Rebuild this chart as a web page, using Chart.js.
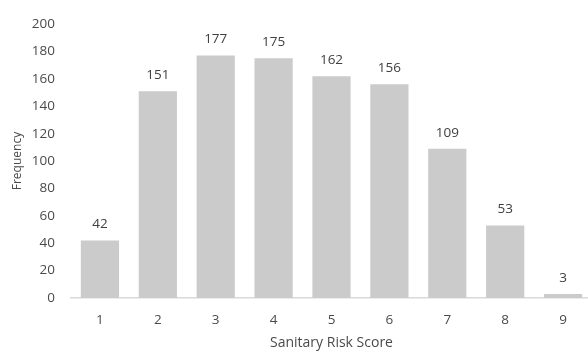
<!DOCTYPE html>
<html>
<head>
<meta charset="utf-8">
<script src="https://cdn.jsdelivr.net/npm/chart.js@4.4.1/dist/chart.umd.min.js"></script>
<style>
html,body{margin:0;padding:0;background:#fff;overflow:hidden;}
#wrap{width:592px;height:351px;position:relative;}
</style>
</head>
<body>
<div id="wrap"><canvas id="c"></canvas></div>
<script>
const categories = ['1','2','3','4','5','6','7','8','9'];
const frequency = [42, 151, 177, 175, 162, 156, 109, 53, 3];
const yTicks = [0, 20, 40, 60, 80, 100, 120, 140, 160, 180, 200];

const FONT = "'Open Sans', sans-serif";
const TXT = '#4a4a4a';

const valueLabels = {
  id: 'valueLabels',
  afterDatasetsDraw(chart) {
    const ctx = chart.ctx;
    const meta = chart.getDatasetMeta(0);
    ctx.save();
    ctx.font = '13.5px ' + FONT;
    ctx.fillStyle = '#404040';
    ctx.textAlign = 'center';
    ctx.textBaseline = 'middle';
    meta.data.forEach((bar, i) => {
      ctx.fillText(String(frequency[i]), bar.x, bar.y - 16);
    });
    ctx.restore();
  }
};

new Chart(document.getElementById('c'), {
  type: 'bar',
  data: {
    labels: categories,
    datasets: [{
      data: frequency,
      backgroundColor: '#cbcbcb',
      borderWidth: 0,
      categoryPercentage: 1.0,
      barPercentage: 0.66
    }]
  },
  options: {
    responsive: true,
    maintainAspectRatio: false,
    animation: false,
    devicePixelRatio: 1,
    layout: { padding: { top: 16, right: 0, left: 0, bottom: 0 } },
    plugins: { legend: { display: false }, tooltip: { enabled: false } },
    scales: {
      x: {
        offset: true,
        grid: { display: false, drawTicks: false },
        border: { display: true, color: '#d9d9d9', width: 1.5 },
        ticks: { color: TXT, font: { family: FONT, size: 13.5 }, padding: 14 },
        title: { display: true, text: 'Sanitary Risk Score', color: TXT, font: { family: FONT, size: 14 }, padding: { top: 0, bottom: 0 } },
        afterFit(scale) { scale.height = 53; }
      },
      y: {
        min: 0, max: 200,
        afterBuildTicks(scale) { scale.ticks = yTicks.map(v => ({ value: v })); },
        grid: { display: false, drawTicks: false },
        border: { display: false },
        ticks: { color: TXT, font: { family: FONT, size: 13.5 }, padding: 16 },
        title: { display: true, text: 'Frequency', color: TXT, font: { family: FONT, size: 12 }, padding: { top: 10, bottom: 0 } },
        afterFit(scale) { scale.width = 71; }
      }
    }
  },
  plugins: [valueLabels]
});
</script>
</body>
</html>
